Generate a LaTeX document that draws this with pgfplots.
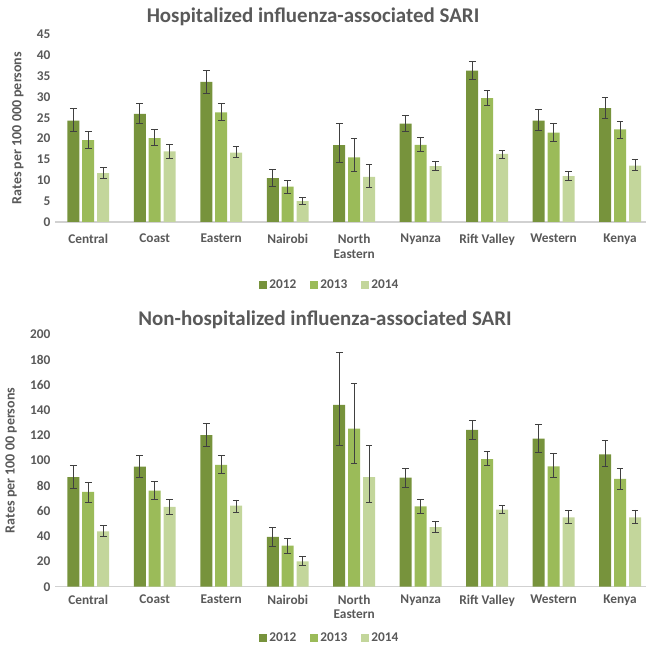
\documentclass[border=0pt]{standalone}
\usepackage{fontspec}
\setmainfont{Carlito}
\usepackage{pgfplots}
\pgfplotsset{compat=1.18}

\definecolor{c2012}{HTML}{77933C}
\definecolor{c2013}{HTML}{9BBB59}
\definecolor{c2014}{HTML}{C3D69B}
\definecolor{txt}{HTML}{595959}
\definecolor{errc}{HTML}{404040}

\pgfplotsset{
  sari/.style={
    scale only axis,
    width=443.25pt,
    xmin=-0.5, xmax=8.39,
    ymin=0,
    ybar=2.2pt,
    bar width=9pt,
    xtick=data,
    xticklabels={Central,Coast,Eastern,Nairobi,{North\\Eastern},Nyanza,Rift Valley,Western,Kenya},
    xticklabel style={align=center, font=\fontsize{10}{11}\selectfont\bfseries, text=txt},
    yticklabel style={font=\fontsize{10}{11}\selectfont\bfseries, text=txt},
    /pgf/number format/assume math mode=true,
    ylabel style={font=\fontsize{10.5}{12}\selectfont\bfseries, text=txt},
    ylabel shift=3pt,
    major tick length=0pt,
    axis x line*=bottom,
    axis y line*=left,
    x axis line style={draw=black!18, line width=0.8pt},
    y axis line style={draw=none},
    legend columns=3,
    legend style={draw=none, fill=none, anchor=center,
      font=\fontsize{10}{11}\selectfont\bfseries, text=txt,
      /tikz/every even column/.append style={column sep=8pt}},
    legend image code/.code={\fill[##1] (0pt,-3pt) rectangle (6pt,3pt);},
    error bars/y dir=both,
    error bars/y explicit,
    error bars/error bar style={errc, line width=0.7pt},
    error bars/error mark options={rotate=90, errc, mark size=2.5pt, line width=0.7pt},
  },
}

\begin{document}
\begin{tikzpicture}
\useasboundingbox (0pt,0pt) rectangle (484.5pt,486pt);

% top panel
\node[font=\fontsize{15.7}{17}\selectfont\bfseries, text=txt] at (234.75pt,473.25pt) {Hospitalized influenza-associated SARI};
\begin{axis}[sari,
    at={(41.25pt,319.5pt)}, anchor=south west,
    height=140.8pt,
    ymax=45, ytick={0,5,...,45},
    xticklabel style={yshift=-5.5pt},
    ylabel={Rates per 100 000 persons},
    legend style={at={(axis description cs:0.465,-0.336)}},
  ]
\addplot[fill=c2012, draw=none] coordinates {
  (0,24.3) += (0,2.8) -= (0,2.7)
  (1,25.9) += (0,2.6) -= (0,2.4)
  (2,33.6) += (0,2.8) -= (0,2.8)
  (3,10.5) += (0,2.2) -= (0,2.0)
  (4,18.4) += (0,5.3) -= (0,4.1)
  (5,23.6) += (0,1.9) -= (0,2.0)
  (6,36.3) += (0,2.1) -= (0,2.2)
  (7,24.3) += (0,2.6) -= (0,2.3)
  (8,27.3) += (0,2.6) -= (0,2.4)
};
\addplot[fill=c2013, draw=none] coordinates {
  (0,19.6) += (0,2.2) -= (0,2.0)
  (1,20.1) += (0,2.0) -= (0,1.8)
  (2,26.3) += (0,2.1) -= (0,2.0)
  (3,8.5)  += (0,1.5) -= (0,1.6)
  (4,15.5) += (0,4.6) -= (0,3.4)
  (5,18.5) += (0,1.7) -= (0,1.7)
  (6,29.7) += (0,1.9) -= (0,1.8)
  (7,21.4) += (0,2.3) -= (0,2.0)
  (8,22.2) += (0,2.0) -= (0,2.1)
};
\addplot[fill=c2014, draw=none] coordinates {
  (0,11.7) += (0,1.3) -= (0,1.2)
  (1,16.9) += (0,1.6) -= (0,1.6)
  (2,16.6) += (0,1.4) -= (0,1.2)
  (3,5.0)  += (0,0.9) -= (0,0.9)
  (4,10.8) += (0,3.1) -= (0,2.5)
  (5,13.4) += (0,1.2) -= (0,1.1)
  (6,16.3) += (0,0.8) -= (0,1.1)
  (7,11.0) += (0,1.1) -= (0,1.0)
  (8,13.5) += (0,1.4) -= (0,1.2)
};
\legend{2012,2013,2014}
\end{axis}

% bottom panel
\node[font=\fontsize{15.7}{17}\selectfont\bfseries, text=txt] at (243.75pt,246pt) {Non-hospitalized influenza-associated SARI};
\begin{axis}[sari,
    at={(41.25pt,45.975pt)}, anchor=south west,
    height=189.3pt,
    ymax=200, ytick={0,20,...,200},
    xticklabel style={yshift=-2.5pt},
    ylabel={Rates per 100 00 persons},
    legend style={at={(axis description cs:0.465,-0.202)}},
  ]
\addplot[fill=c2012, draw=none] coordinates {
  (0,86.9)  += (0,9.0)  -= (0,8.9)
  (1,95.1)  += (0,9.0)  -= (0,8.9)
  (2,120.2) += (0,9.3)  -= (0,8.9)
  (3,39.4)  += (0,7.7)  -= (0,7.7)
  (4,144.0) += (0,41.5) -= (0,31.9)
  (5,86.4)  += (0,7.4)  -= (0,7.6)
  (6,124.2) += (0,7.4)  -= (0,7.7)
  (7,117.3) += (0,11.4) -= (0,10.8)
  (8,104.9) += (0,10.6) -= (0,9.8)
};
\addplot[fill=c2013, draw=none] coordinates {
  (0,75.1)  += (0,7.6)  -= (0,8.0)
  (1,76.1)  += (0,7.4)  -= (0,6.8)
  (2,96.5)  += (0,7.6)  -= (0,6.6)
  (3,32.5)  += (0,6.1)  -= (0,6.0)
  (4,125.2) += (0,36.2) -= (0,27.9)
  (5,63.7)  += (0,5.6)  -= (0,5.5)
  (6,101.0) += (0,5.8)  -= (0,5.3)
  (7,95.4)  += (0,9.8)  -= (0,8.7)
  (8,85.4)  += (0,8.4)  -= (0,8.0)
};
\addplot[fill=c2014, draw=none] coordinates {
  (0,43.9) += (0,4.8)  -= (0,4.3)
  (1,63.2) += (0,6.1)  -= (0,5.8)
  (2,64.2) += (0,4.5)  -= (0,5.0)
  (3,20.1) += (0,3.7)  -= (0,3.5)
  (4,86.9) += (0,24.9) -= (0,19.8)
  (5,47.3) += (0,4.5)  -= (0,4.2)
  (6,61.0) += (0,3.2)  -= (0,3.1)
  (7,55.0) += (0,5.6)  -= (0,4.8)
  (8,55.0) += (0,5.8)  -= (0,5.1)
};
\legend{2012,2013,2014}
\end{axis}
\end{tikzpicture}
\end{document}
